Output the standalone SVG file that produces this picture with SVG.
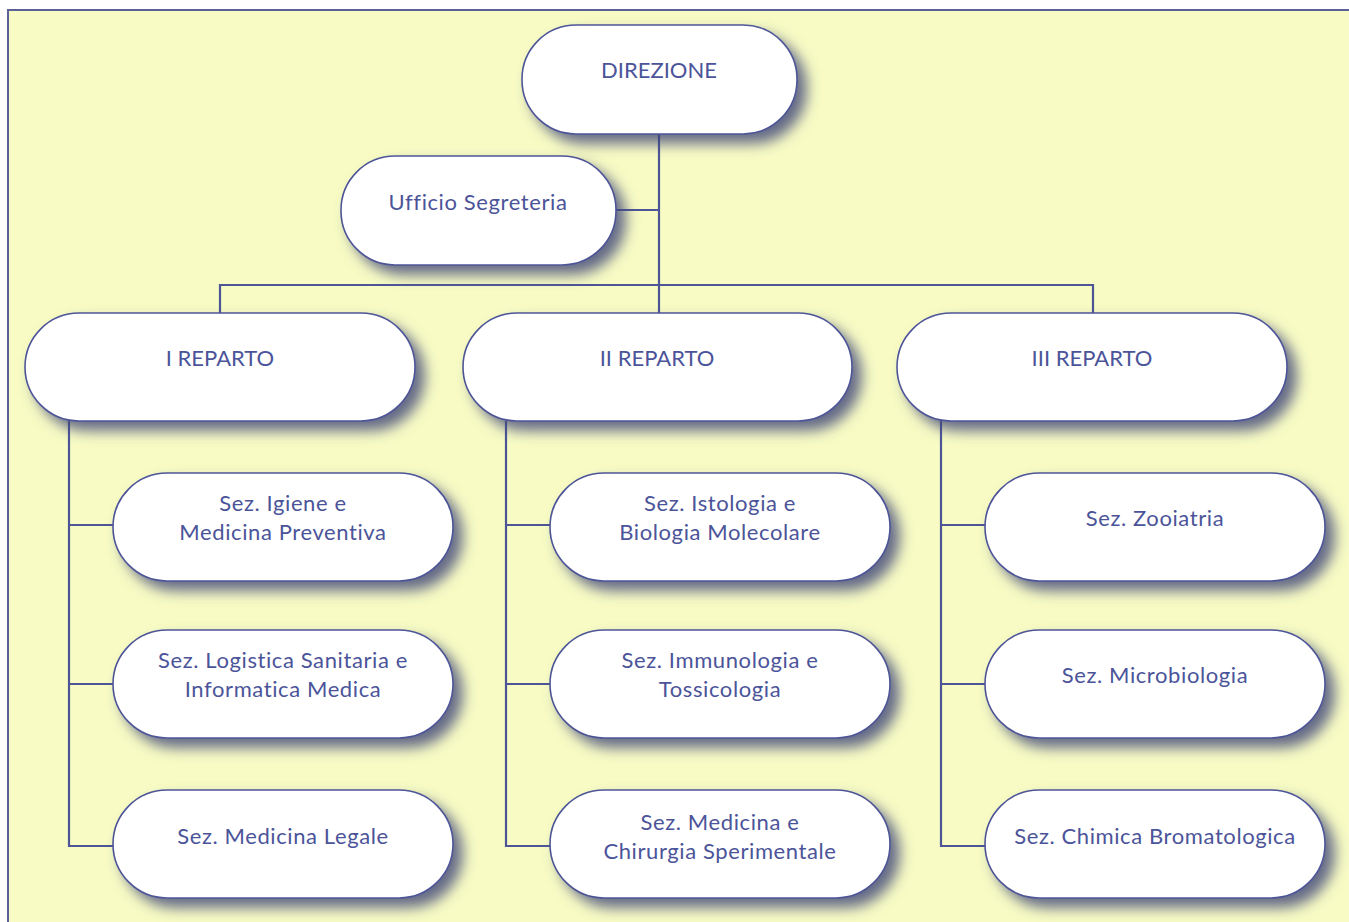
<svg xmlns="http://www.w3.org/2000/svg" width="1349" height="922" viewBox="0 0 1349 922">
<defs>
<filter id="sh" x="-15%" y="-25%" width="140%" height="160%">
<feDropShadow dx="9" dy="9" stdDeviation="7" flood-color="#3c4478" flood-opacity="0.8"/>
</filter>
</defs>
<style>
.n{fill:#ffffff;stroke:#4d5597;stroke-width:1.6;filter:url(#sh)}
.t{font-family:Lato,"Liberation Sans",sans-serif;font-size:22px;fill:#4b5499;text-anchor:middle}
.m{letter-spacing:0.6px}
.c{fill:none;stroke:#4d5597;stroke-width:2.2}
</style>
<rect x="0" y="0" width="1349" height="922" fill="#ffffff"/>
<rect x="8" y="10" width="1350" height="930" fill="#f8fcc4" stroke="#5b6098" stroke-width="2"/>
<g id="connectors">
<path class="c" d="M659,134 V313 M616,210 H659 M220,313 V285 H1093 V313"/>
<path class="c" d="M69,421 V846 H113 M69,525 H113 M69,684 H113"/>
<path class="c" d="M506,421 V846 H550 M506,525 H550 M506,684 H550"/>
<path class="c" d="M941,421 V846 H985 M941,525 H985 M941,684 H985"/>
</g>
<g id="direzione"><rect class="n" x="522" y="25" width="275" height="109" rx="54"/><text class="t" x="659" y="78">DIREZIONE</text></g>
<g id="segreteria"><rect class="n" x="341" y="156" width="275" height="109" rx="54"/><text class="t m" x="478" y="210">Ufficio Segreteria</text></g>
<g id="reparto1"><rect class="n" x="25" y="313" width="390" height="108" rx="54"/><text class="t" x="220" y="366">I REPARTO</text></g>
<g id="reparto2"><rect class="n" x="463" y="313" width="389" height="108" rx="54"/><text class="t" x="657" y="366">II REPARTO</text></g>
<g id="reparto3"><rect class="n" x="897" y="313" width="390" height="108" rx="54"/><text class="t" x="1092" y="366">III REPARTO</text></g>
<g id="igiene"><rect class="n" x="113" y="473" width="340" height="108" rx="54"/><text class="t m" x="283" y="511">Sez. Igiene e</text><text class="t m" x="283" y="540">Medicina Preventiva</text></g>
<g id="logistica"><rect class="n" x="113" y="630" width="340" height="108" rx="54"/><text class="t m" x="283" y="668">Sez. Logistica Sanitaria e</text><text class="t m" x="283" y="697">Informatica Medica</text></g>
<g id="legale"><rect class="n" x="113" y="790" width="340" height="108" rx="54"/><text class="t m" x="283" y="844">Sez. Medicina Legale</text></g>
<g id="istologia"><rect class="n" x="550" y="473" width="340" height="108" rx="54"/><text class="t m" x="720" y="511">Sez. Istologia e</text><text class="t m" x="720" y="540">Biologia Molecolare</text></g>
<g id="immunologia"><rect class="n" x="550" y="630" width="340" height="108" rx="54"/><text class="t m" x="720" y="668">Sez. Immunologia e</text><text class="t m" x="720" y="697">Tossicologia</text></g>
<g id="chirurgia"><rect class="n" x="550" y="790" width="340" height="108" rx="54"/><text class="t m" x="720" y="830">Sez. Medicina e</text><text class="t m" x="720" y="859">Chirurgia Sperimentale</text></g>
<g id="zooiatria"><rect class="n" x="985" y="473" width="340" height="108" rx="54"/><text class="t m" x="1155" y="526">Sez. Zooiatria</text></g>
<g id="microbiologia"><rect class="n" x="985" y="630" width="340" height="108" rx="54"/><text class="t m" x="1155" y="683">Sez. Microbiologia</text></g>
<g id="chimica"><rect class="n" x="985" y="790" width="340" height="108" rx="54"/><text class="t m" x="1155" y="844">Sez. Chimica Bromatologica</text></g>
</svg>
